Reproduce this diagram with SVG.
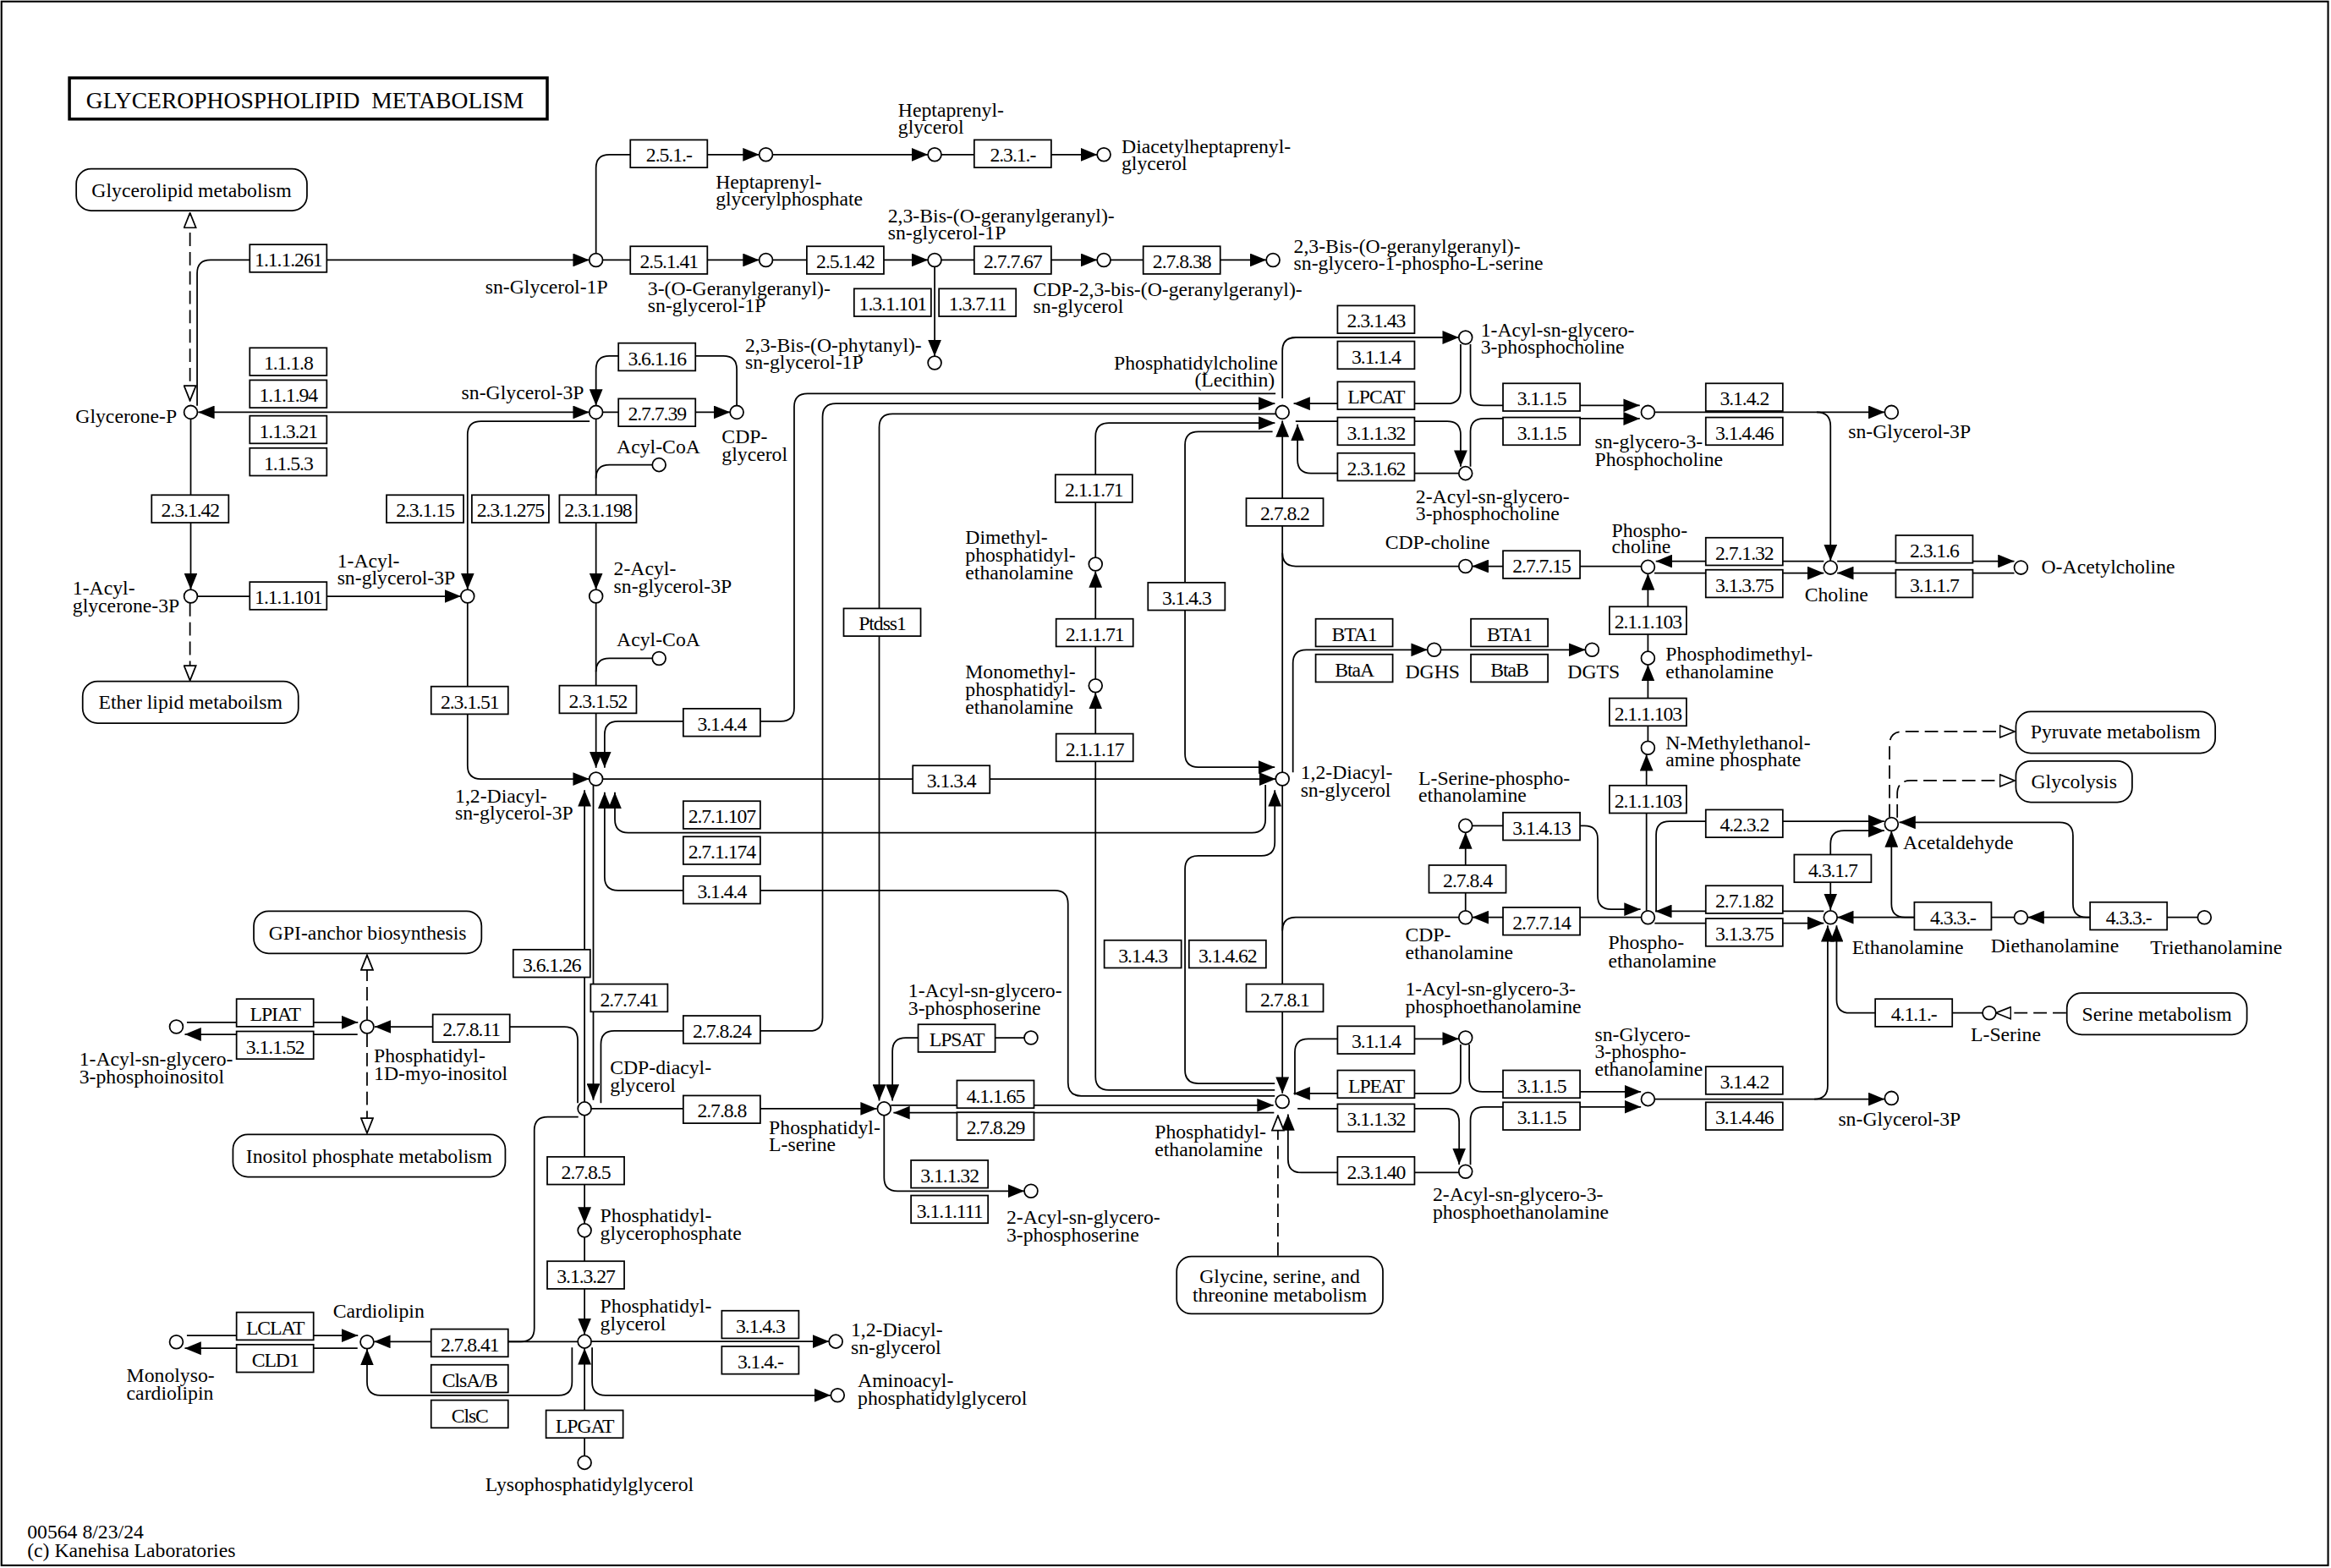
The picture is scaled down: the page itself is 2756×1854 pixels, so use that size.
<svg xmlns="http://www.w3.org/2000/svg" width="2756" height="1854" viewBox="0 0 2756 1854">
<style>
.ln{fill:none;stroke:#000;stroke-width:1}
.d{stroke-dasharray:9 4}
.c circle{fill:#fff;stroke:#000;stroke-width:1}
.e rect{fill:#fff;stroke:#000;stroke-width:1}
.e text{font-family:"Liberation Serif","Times New Roman",serif;font-size:13.5px;letter-spacing:-0.6px;text-anchor:middle}
.t,.c text{font-family:"Liberation Serif","Times New Roman",serif;font-size:13.5px}
.m rect{fill:#fff;stroke:#000;stroke-width:1}
.m text{font-family:"Liberation Serif","Times New Roman",serif;font-size:13.5px;text-anchor:middle}
</style>
<defs>
<marker id="ar" viewBox="0 0 11 9" refX="11" refY="4.5" markerWidth="11" markerHeight="9" markerUnits="userSpaceOnUse" orient="auto-start-reverse"><path d="M0,0L11,4.5L0,9z" fill="#000"/></marker>
<marker id="ah" viewBox="0 0 11 9" refX="10.5" refY="4.5" markerWidth="11" markerHeight="9" markerUnits="userSpaceOnUse" orient="auto-start-reverse"><path d="M0.5,0.5L10.5,4.5L0.5,8.5z" fill="#fff" stroke="#000" stroke-width="1"/></marker>
</defs>
<rect x="0" y="0" width="2756" height="1854" fill="#fff"/>
<g transform="scale(1.7577)">
<rect x="1" y="1" width="1565" height="1052" fill="none" stroke="#000" stroke-width="1.2"/>
<g id="title"><rect x="46.7" y="52.4" width="321.4" height="27.7" fill="#fff" stroke="#000" stroke-width="2"/><text class="t" x="57.9" y="73.1" xml:space="preserve" style="font-size:15.7px;white-space:pre">GLYCEROPHOSPHOLIPID  METABOLISM</text></g>

<g id="connectors">
<path class="ln d" d="M127.8,269.5V143.2" marker-start="url(#ah)" marker-end="url(#ah)"/>
<path class="ln" d="M132.6,273V183.9Q132.6,174.9 141.6,174.9H396.4" marker-end="url(#ar)"/>
<path class="ln" d="M133.3,277.3H396.4" marker-start="url(#ar)" marker-end="url(#ar)"/>
<path class="ln" d="M128.3,281.8V396.6" marker-end="url(#ar)"/>
<path class="ln d" d="M127.8,405.6V457.8" marker-end="url(#ah)"/>
<path class="ln" d="M132.8,401.1H310" marker-end="url(#ar)"/>
<path class="ln" d="M396.6,283.4H323.5Q314.5,283.4 314.5,292.4V396.6" marker-end="url(#ar)"/>
<path class="ln" d="M314.5,405.6V515Q314.5,524 323.5,524H396.4" marker-end="url(#ar)"/>
<path class="ln" d="M400.9,170.4V113Q400.9,104 409.9,104H510.7" marker-end="url(#ar)"/>
<path class="ln" d="M519.7,104H624.2" marker-end="url(#ar)"/>
<path class="ln" d="M633.2,104H738" marker-end="url(#ar)"/>
<path class="ln" d="M405.4,174.9H510.7" marker-end="url(#ar)"/>
<path class="ln" d="M519.7,174.9H624.2" marker-end="url(#ar)"/>
<path class="ln" d="M633.2,174.9H738" marker-end="url(#ar)"/>
<path class="ln" d="M747,174.9H851.8" marker-end="url(#ar)"/>
<path class="ln" d="M628.7,179.4V239.6" marker-end="url(#ar)"/>
<path class="ln" d="M405.4,277.3H491.1" marker-end="url(#ar)"/>
<path class="ln" d="M495.6,272.8V248.5Q495.6,239.5 486.6,239.5H409.9Q400.9,239.5 400.9,248.5V272.8" marker-end="url(#ar)"/>
<path class="ln" d="M400.9,281.8V396.6" marker-end="url(#ar)"/>
<path class="ln" d="M438.8,312.7H409.9Q400.9,312.7 400.9,321.7"/>
<path class="ln" d="M400.9,405.6V516.5" marker-end="url(#ar)"/>
<path class="ln" d="M438.8,442.9H409.9Q400.9,442.9 400.9,451.9"/>
<path class="ln" d="M405.4,524H858.1" marker-end="url(#ar)"/>
<path class="ln" d="M858,264.7H543.2Q534.2,264.7 534.2,273.7V476.2Q534.2,485.2 525.2,485.2H415.7Q406.7,485.2 406.7,494.2V516.5" marker-end="url(#ar)"/>
<path class="ln" d="M404.2,742V702.5Q404.2,693.5 413.2,693.5H544.3Q553.3,693.5 553.3,684.5V280.5Q553.3,271.5 562.3,271.5H857.6" marker-end="url(#ar)"/>
<path class="ln" d="M858,278.4H600.4Q591.4,278.4 591.4,287.4V740.5" marker-end="url(#ar)"/>
<path class="ln" d="M736.9,375V293.6Q736.9,284.6 745.9,284.6H857.6" marker-end="url(#ar)"/>
<path class="ln" d="M736.9,456.8V384.3" marker-end="url(#ar)"/>
<path class="ln" d="M857.5,733.3H745.9Q736.9,733.3 736.9,724.3V466" marker-end="url(#ar)"/>
<path class="ln" d="M856,290.3H806.1Q797.1,290.3 797.1,299.3V507.1Q797.1,516.1 806.1,516.1H857.5" marker-end="url(#ar)"/>
<path class="ln" d="M857.5,728.8H806.1Q797.1,728.8 797.1,719.8V584.7Q797.1,575.7 806.1,575.7H848.5Q857.5,575.7 857.5,566.7V531.5" marker-end="url(#ar)"/>
<path class="ln" d="M851.2,528V551.2Q851.2,560.2 842.2,560.2H422.6Q413.6,560.2 413.6,551.2V533" marker-end="url(#ar)"/>
<path class="ln" d="M857.5,737.2H727.4Q718.4,737.2 718.4,728.2V608Q718.4,599 709.4,599H415.7Q406.7,599 406.7,590V533" marker-end="url(#ar)"/>
<path class="ln" d="M393.2,741.3V531.5" marker-end="url(#ar)"/>
<path class="ln" d="M399.1,528.5V740" marker-end="url(#ar)"/>
<path class="ln" d="M388.6,742V699.7Q388.6,690.7 379.6,690.7H252" marker-end="url(#ar)"/>
<path class="ln" d="M397.7,745.8H589.8" marker-end="url(#ar)"/>
<path class="ln" d="M393.2,750.3V823" marker-end="url(#ar)"/>
<path class="ln" d="M393.2,832.2V897.7" marker-end="url(#ar)"/>
<path class="ln" d="M397.7,902.4H557.6" marker-end="url(#ar)"/>
<path class="ln" d="M398.3,906.5V929.6Q398.3,938.6 407.3,938.6H558.8" marker-end="url(#ar)"/>
<path class="ln" d="M393.2,979.4V907" marker-end="url(#ar)"/>
<path class="ln" d="M389,751.4H368.4Q359.4,751.4 359.4,760.4V893.5Q359.4,902.5 350.4,902.5H341"/>
<path class="ln" d="M388.7,902.5H251.6" marker-end="url(#ar)"/>
<path class="ln" d="M384.8,906.5V929.6Q384.8,938.6 375.8,938.6H255.9Q246.9,938.6 246.9,929.6V907.5" marker-end="url(#ar)"/>
<path class="ln" d="M125.7,898.4H240.8" marker-end="url(#ar)"/>
<path class="ln" d="M240.5,907H124.3" marker-end="url(#ar)"/>
<path class="ln" d="M125.7,687.7H240.8" marker-end="url(#ar)"/>
<path class="ln" d="M240.5,695.8H124.3" marker-end="url(#ar)"/>
<path class="ln d" d="M246.9,686V642.5" marker-end="url(#ah)"/>
<path class="ln d" d="M246.9,695.3V762.2" marker-end="url(#ah)"/>
<path class="ln" d="M689,698.1H609.3Q600.3,698.1 600.3,707.1V740.5" marker-end="url(#ar)"/>
<path class="ln" d="M594.7,750.3V792.2Q594.7,801.2 603.7,801.2H689" marker-end="url(#ar)"/>
<path class="ln" d="M599.2,743.5H856.6" marker-end="url(#ar)"/>
<path class="ln" d="M857,748.5H601" marker-end="url(#ar)"/>
<path class="ln" d="M862.6,528.5V735.5" marker-end="url(#ar)"/>
<path class="ln" d="M981.3,617.1H871.6Q862.6,617.1 862.6,626.1"/>
<path class="ln" d="M862.6,519.5V283" marker-end="url(#ar)"/>
<path class="ln" d="M981.3,380.9H871.6Q862.6,380.9 862.6,371.9"/>
<path class="ln" d="M869.7,519.5V446.1Q869.7,437.1 878.7,437.1H960.2" marker-end="url(#ar)"/>
<path class="ln" d="M969.2,437.1H1066.4" marker-end="url(#ar)"/>
<path class="ln" d="M862.6,268V236Q862.6,227 871.6,227H981.3" marker-end="url(#ar)"/>
<path class="ln" d="M982.5,231.5V262.5Q982.5,271.5 973.5,271.5H870.2" marker-end="url(#ar)"/>
<path class="ln" d="M871.5,283.4H973.5Q982.5,283.4 982.5,292.4V313.9" marker-end="url(#ar)"/>
<path class="ln" d="M981.3,318.4H881.8Q872.8,318.4 872.8,309.4V285.5" marker-end="url(#ar)"/>
<path class="ln" d="M989.1,231.5V263.7Q989.1,272.7 998.1,272.7H1103" marker-end="url(#ar)"/>
<path class="ln" d="M989.1,313.9V290.6Q989.1,281.6 998.1,281.6H1103" marker-end="url(#ar)"/>
<path class="ln" d="M1113,277.3H1267.8" marker-end="url(#ar)"/>
<path class="ln" d="M1222,277.3Q1231.3,277.3 1231.3,286.6V377.3" marker-end="url(#ar)"/>
<path class="ln" d="M1104,380.9H990.3" marker-end="url(#ar)"/>
<path class="ln" d="M1226.8,377.5H1113.8" marker-end="url(#ar)"/>
<path class="ln" d="M1112.8,385.5H1226.8" marker-end="url(#ar)"/>
<path class="ln" d="M1235.8,377.5H1354.9" marker-end="url(#ar)"/>
<path class="ln" d="M1354.9,385.5H1235.8" marker-end="url(#ar)"/>
<path class="ln" d="M1108.5,438.2V385.9" marker-end="url(#ar)"/>
<path class="ln" d="M1108.5,498.6V447.2" marker-end="url(#ar)"/>
<path class="ln" d="M1107.5,612.6V507.6" marker-end="url(#ar)"/>
<path class="ln" d="M1114,613.5V561.5Q1114,552.5 1123,552.5H1267.5" marker-end="url(#ar)"/>
<path class="ln" d="M990.3,555.5H1065.7Q1074.7,555.5 1074.7,564.5V602.7Q1074.7,611.7 1083.7,611.7H1103.5" marker-end="url(#ar)"/>
<path class="ln" d="M985.8,612.6V560" marker-end="url(#ar)"/>
<path class="ln" d="M1104,617.1H990.3" marker-end="url(#ar)"/>
<path class="ln" d="M1226.8,613H1113.5" marker-end="url(#ar)"/>
<path class="ln" d="M1113,621H1226.8" marker-end="url(#ar)"/>
<path class="ln" d="M1354.9,617.1H1235.8" marker-end="url(#ar)"/>
<path class="ln" d="M1287.4,617.1H1281.3Q1272.3,617.1 1272.3,608.1V558.9" marker-end="url(#ar)"/>
<path class="ln" d="M1478.3,617.1H1364" marker-end="url(#ar)"/>
<path class="ln" d="M1405.6,617.1H1403.4Q1394.4,617.1 1394.4,608.1V562.2Q1394.4,553.2 1385.4,553.2H1277.5" marker-end="url(#ar)"/>
<path class="ln" d="M1231.3,612.1V567.8Q1231.3,558.8 1240.3,558.8H1267.5" marker-start="url(#ar)" marker-end="url(#ar)"/>
<path class="ln" d="M1333.6,681.4H1244.4Q1235.4,681.4 1235.4,672.4V622.5" marker-end="url(#ar)"/>
<path class="ln" d="M1220.4,739.4Q1229.4,739.4 1229.4,730.4V622.5" marker-end="url(#ar)"/>
<path class="ln" d="M1113,739.4H1267.8" marker-end="url(#ar)"/>
<path class="ln d" d="M1389.8,681.4H1342.6" marker-end="url(#ah)"/>
<path class="ln d" d="M1271,549.9V501.1Q1271,492.1 1280,492.1H1355.2" marker-end="url(#ah)"/>
<path class="ln d" d="M1276.2,550V534.1Q1276.2,525.1 1285.2,525.1H1355.2" marker-end="url(#ah)"/>
<path class="ln" d="M871,736.5V707.8Q871,698.8 880,698.8H981.3" marker-end="url(#ar)"/>
<path class="ln" d="M982.5,702.6V726.6Q982.5,735.6 973.5,735.6H870.2" marker-end="url(#ar)"/>
<path class="ln" d="M872.8,745.8H972.5Q981.5,745.8 981.5,754.8V783.4" marker-end="url(#ar)"/>
<path class="ln" d="M981.3,788.8H875.4Q866.4,788.8 866.4,779.8V749.5" marker-end="url(#ar)"/>
<path class="ln" d="M988.3,702.6V725.4Q988.3,734.4 997.3,734.4H1103.8" marker-end="url(#ar)"/>
<path class="ln" d="M989.1,783.6V753.6Q989.1,744.6 998.1,744.6H1103.8" marker-end="url(#ar)"/>
<path class="ln d" d="M859.6,844.7V750.5" marker-end="url(#ah)"/>
</g>

<g id="maps" class="m">
<g id="m-glycerolipid"><rect x="51.3" y="113.6" width="155.2" height="28.1" rx="10"/><text x="128.9" y="132.6">Glycerolipid metabolism</text></g>
<g id="m-ether"><rect x="55.6" y="458.3" width="145.1" height="28.2" rx="10"/><text x="128.1" y="477">Ether lipid metaboilsm</text></g>
<g id="m-gpi"><rect x="170.7" y="612.9" width="153.2" height="28.5" rx="10"/><text x="247.3" y="632">GPI-anchor biosynthesis</text></g>
<g id="m-inositol"><rect x="156.7" y="763.2" width="183.2" height="28.5" rx="10"/><text x="248.3" y="782.4">Inositol phosphate metabolism</text></g>
<g id="m-glycine"><rect x="791.5" y="845.2" width="138.7" height="38.6" rx="10"/><text x="860.8" y="862.8"><tspan x="860.8" y="862.8">Glycine, serine, and</tspan><tspan x="860.8" y="875.3">threonine metabolism</tspan></text></g>
<g id="m-pyruvate"><rect x="1356" y="478.7" width="134.1" height="28" rx="10"/><text x="1423" y="496.8">Pyruvate metabolism</text></g>
<g id="m-glycolysis"><rect x="1356" y="511.9" width="78.2" height="27.8" rx="10"/><text x="1395.1" y="530.5">Glycolysis</text></g>
<g id="m-serine"><rect x="1390.3" y="668" width="121.1" height="28" rx="10"/><text x="1450.8" y="686.5">Serine metabolism</text></g>
</g>

<g id="enzymes" class="e">
<g id="e1"><rect x="168" y="164.5" width="51.8" height="18.6"/><text x="193.9" y="179.3">1.1.1.261</text></g>
<g id="e2"><rect x="168" y="234" width="51.8" height="18.6"/><text x="193.9" y="248.8">1.1.1.8</text></g>
<g id="e3"><rect x="168" y="255.7" width="51.8" height="18.6"/><text x="193.9" y="270.5">1.1.1.94</text></g>
<g id="e4"><rect x="168" y="279.7" width="51.8" height="18.6"/><text x="193.9" y="294.5">1.1.3.21</text></g>
<g id="e5"><rect x="168" y="301.4" width="51.8" height="18.6"/><text x="193.9" y="316.2">1.1.5.3</text></g>
<g id="e6"><rect x="102" y="333" width="51.8" height="18.6"/><text x="127.9" y="347.8">2.3.1.42</text></g>
<g id="e7"><rect x="260" y="333" width="51.8" height="18.6"/><text x="285.9" y="347.8">2.3.1.15</text></g>
<g id="e8"><rect x="317.4" y="333" width="51.8" height="18.6"/><text x="343.3" y="347.8">2.3.1.275</text></g>
<g id="e9"><rect x="376.3" y="333" width="51.8" height="18.6"/><text x="402.2" y="347.8">2.3.1.198</text></g>
<g id="e10"><rect x="168" y="391.5" width="51.8" height="18.6"/><text x="193.9" y="406.3">1.1.1.101</text></g>
<g id="e11"><rect x="290" y="461.8" width="51.8" height="18.6"/><text x="315.9" y="476.6">2.3.1.51</text></g>
<g id="e12"><rect x="376.3" y="461.2" width="51.8" height="18.6"/><text x="402.2" y="476">2.3.1.52</text></g>
<g id="e13"><rect x="424" y="94.1" width="51.8" height="18.6"/><text x="449.9" y="108.9">2.5.1.-</text></g>
<g id="e14"><rect x="655.3" y="94.1" width="51.8" height="18.6"/><text x="681.2" y="108.9">2.3.1.-</text></g>
<g id="e15"><rect x="424" y="165.7" width="51.8" height="18.6"/><text x="449.9" y="180.5">2.5.1.41</text></g>
<g id="e16"><rect x="542.7" y="165.7" width="51.8" height="18.6"/><text x="568.6" y="180.5">2.5.1.42</text></g>
<g id="e17"><rect x="655.3" y="165.7" width="51.8" height="18.6"/><text x="681.2" y="180.5">2.7.7.67</text></g>
<g id="e18"><rect x="769" y="165.7" width="51.8" height="18.6"/><text x="794.9" y="180.5">2.7.8.38</text></g>
<g id="e19"><rect x="574.5" y="194.2" width="51.8" height="18.6"/><text x="600.4" y="209">1.3.1.101</text></g>
<g id="e20"><rect x="631.6" y="194.2" width="51.8" height="18.6"/><text x="657.5" y="209">1.3.7.11</text></g>
<g id="e21"><rect x="416" y="230.8" width="51.8" height="18.6"/><text x="441.9" y="245.6">3.6.1.16</text></g>
<g id="e22"><rect x="416" y="268.2" width="51.8" height="18.6"/><text x="441.9" y="283">2.7.7.39</text></g>
<g id="e23"><rect x="709.9" y="319.3" width="51.8" height="18.6"/><text x="735.8" y="334.1">2.1.1.71</text></g>
<g id="e24"><rect x="710.4" y="416.3" width="51.8" height="18.6"/><text x="736.3" y="431.1">2.1.1.71</text></g>
<g id="e25"><rect x="710.4" y="493.6" width="51.8" height="18.6"/><text x="736.3" y="508.4">2.1.1.17</text></g>
<g id="e26"><rect x="567.5" y="409.3" width="51.8" height="18.6"/><text x="593.4" y="424.1">Ptdss1</text></g>
<g id="e27"><rect x="459.6" y="476.7" width="51.8" height="18.6"/><text x="485.5" y="491.5">3.1.4.4</text></g>
<g id="e28"><rect x="614" y="515" width="51.8" height="18.6"/><text x="639.9" y="529.8">3.1.3.4</text></g>
<g id="e29"><rect x="459.6" y="538.9" width="51.8" height="18.6"/><text x="485.5" y="553.7">2.7.1.107</text></g>
<g id="e30"><rect x="459.6" y="562.8" width="51.8" height="18.6"/><text x="485.5" y="577.6">2.7.1.174</text></g>
<g id="e31"><rect x="459.6" y="589.3" width="51.8" height="18.6"/><text x="485.5" y="604.1">3.1.4.4</text></g>
<g id="e32"><rect x="772.2" y="391.9" width="51.8" height="18.6"/><text x="798.1" y="406.7">3.1.4.3</text></g>
<g id="e33"><rect x="742.8" y="632.5" width="51.8" height="18.6"/><text x="768.7" y="647.3">3.1.4.3</text></g>
<g id="e34"><rect x="799.8" y="632.5" width="51.8" height="18.6"/><text x="825.7" y="647.3">3.1.4.62</text></g>
<g id="e35"><rect x="345.2" y="638.8" width="51.8" height="18.6"/><text x="371.1" y="653.6">3.6.1.26</text></g>
<g id="e36"><rect x="397.3" y="662" width="51.8" height="18.6"/><text x="423.2" y="676.8">2.7.7.41</text></g>
<g id="e37"><rect x="459.6" y="683.3" width="51.8" height="18.6"/><text x="485.5" y="698.1">2.7.8.24</text></g>
<g id="e38"><rect x="617.6" y="689.1" width="51.8" height="18.6"/><text x="643.5" y="703.9">LPSAT</text></g>
<g id="e39"><rect x="899.7" y="205.6" width="51.8" height="18.6"/><text x="925.6" y="220.4">2.3.1.43</text></g>
<g id="e40"><rect x="899.7" y="229.6" width="51.8" height="18.6"/><text x="925.6" y="244.4">3.1.1.4</text></g>
<g id="e41"><rect x="899.7" y="256.8" width="51.8" height="18.6"/><text x="925.6" y="271.6">LPCAT</text></g>
<g id="e42"><rect x="899.7" y="280.8" width="51.8" height="18.6"/><text x="925.6" y="295.6">3.1.1.32</text></g>
<g id="e43"><rect x="899.7" y="304.8" width="51.8" height="18.6"/><text x="925.6" y="319.6">2.3.1.62</text></g>
<g id="e44"><rect x="1011" y="257.9" width="51.8" height="18.6"/><text x="1036.9" y="272.7">3.1.1.5</text></g>
<g id="e45"><rect x="1011" y="280.8" width="51.8" height="18.6"/><text x="1036.9" y="295.6">3.1.1.5</text></g>
<g id="e46"><rect x="1147.4" y="257.9" width="51.8" height="18.6"/><text x="1173.3" y="272.7">3.1.4.2</text></g>
<g id="e47"><rect x="1147.4" y="280.8" width="51.8" height="18.6"/><text x="1173.3" y="295.6">3.1.4.46</text></g>
<g id="e48"><rect x="838.3" y="335.2" width="51.8" height="18.6"/><text x="864.2" y="350">2.7.8.2</text></g>
<g id="e49"><rect x="1011" y="370.5" width="51.8" height="18.6"/><text x="1036.9" y="385.3">2.7.7.15</text></g>
<g id="e50"><rect x="885" y="416.3" width="51.8" height="18.6"/><text x="910.9" y="431.1">BTA1</text></g>
<g id="e51"><rect x="885" y="440.2" width="51.8" height="18.6"/><text x="910.9" y="455">BtaA</text></g>
<g id="e52"><rect x="989.4" y="416.3" width="51.8" height="18.6"/><text x="1015.3" y="431.1">BTA1</text></g>
<g id="e53"><rect x="989.4" y="440.2" width="51.8" height="18.6"/><text x="1015.3" y="455">BtaB</text></g>
<g id="e54"><rect x="1082.6" y="408.1" width="51.8" height="18.6"/><text x="1108.5" y="422.9">2.1.1.103</text></g>
<g id="e55"><rect x="1082.6" y="469.7" width="51.8" height="18.6"/><text x="1108.5" y="484.5">2.1.1.103</text></g>
<g id="e56"><rect x="1082.6" y="528.4" width="51.8" height="18.6"/><text x="1108.5" y="543.2">2.1.1.103</text></g>
<g id="e57"><rect x="1011" y="546.6" width="51.8" height="18.6"/><text x="1036.9" y="561.4">3.1.4.13</text></g>
<g id="e58"><rect x="961.2" y="582" width="51.8" height="18.6"/><text x="987.1" y="596.8">2.7.8.4</text></g>
<g id="e59"><rect x="1011" y="610.4" width="51.8" height="18.6"/><text x="1036.9" y="625.2">2.7.7.14</text></g>
<g id="e60"><rect x="838.3" y="662" width="51.8" height="18.6"/><text x="864.2" y="676.8">2.7.8.1</text></g>
<g id="e61"><rect x="899.7" y="690.3" width="51.8" height="18.6"/><text x="925.6" y="705.1">3.1.1.4</text></g>
<g id="e62"><rect x="899.7" y="720" width="51.8" height="18.6"/><text x="925.6" y="734.8">LPEAT</text></g>
<g id="e63"><rect x="899.7" y="742.7" width="51.8" height="18.6"/><text x="925.6" y="757.5">3.1.1.32</text></g>
<g id="e64"><rect x="899.7" y="778.2" width="51.8" height="18.6"/><text x="925.6" y="793">2.3.1.40</text></g>
<g id="e65"><rect x="1011" y="720" width="51.8" height="18.6"/><text x="1036.9" y="734.8">3.1.1.5</text></g>
<g id="e66"><rect x="1011" y="741.5" width="51.8" height="18.6"/><text x="1036.9" y="756.3">3.1.1.5</text></g>
<g id="e67"><rect x="1147.4" y="717.5" width="51.8" height="18.6"/><text x="1173.3" y="732.3">3.1.4.2</text></g>
<g id="e68"><rect x="1147.4" y="741.5" width="51.8" height="18.6"/><text x="1173.3" y="756.3">3.1.4.46</text></g>
<g id="e69"><rect x="1147.4" y="361.7" width="51.8" height="18.6"/><text x="1173.3" y="376.5">2.7.1.32</text></g>
<g id="e70"><rect x="1147.4" y="383.3" width="51.8" height="18.6"/><text x="1173.3" y="398.1">3.1.3.75</text></g>
<g id="e71"><rect x="1275.2" y="360.1" width="51.8" height="18.6"/><text x="1301.1" y="374.9">2.3.1.6</text></g>
<g id="e72"><rect x="1275.2" y="383.3" width="51.8" height="18.6"/><text x="1301.1" y="398.1">3.1.1.7</text></g>
<g id="e73"><rect x="1147.4" y="544.7" width="51.8" height="18.6"/><text x="1173.3" y="559.5">4.2.3.2</text></g>
<g id="e74"><rect x="1206.9" y="574.9" width="51.8" height="18.6"/><text x="1232.8" y="589.7">4.3.1.7</text></g>
<g id="e75"><rect x="1147.4" y="595.8" width="51.8" height="18.6"/><text x="1173.3" y="610.6">2.7.1.82</text></g>
<g id="e76"><rect x="1147.4" y="617.9" width="51.8" height="18.6"/><text x="1173.3" y="632.7">3.1.3.75</text></g>
<g id="e77"><rect x="1287.7" y="606.9" width="51.8" height="18.6"/><text x="1313.6" y="621.7">4.3.3.-</text></g>
<g id="e78"><rect x="1405.9" y="606.9" width="51.8" height="18.6"/><text x="1431.8" y="621.7">4.3.3.-</text></g>
<g id="e79"><rect x="1261.4" y="672" width="51.8" height="18.6"/><text x="1287.3" y="686.8">4.1.1.-</text></g>
<g id="e80"><rect x="159.1" y="672" width="51.8" height="18.6"/><text x="185" y="686.8">LPIAT</text></g>
<g id="e81"><rect x="159.1" y="693.8" width="51.8" height="18.6"/><text x="185" y="708.6">3.1.1.52</text></g>
<g id="e82"><rect x="291.1" y="682.4" width="51.8" height="18.6"/><text x="317" y="697.2">2.7.8.11</text></g>
<g id="e83"><rect x="459.6" y="737" width="51.8" height="18.6"/><text x="485.5" y="751.8">2.7.8.8</text></g>
<g id="e84"><rect x="643.7" y="726.8" width="51.8" height="18.6"/><text x="669.6" y="741.6">4.1.1.65</text></g>
<g id="e85"><rect x="643.7" y="748.3" width="51.8" height="18.6"/><text x="669.6" y="763.1">2.7.8.29</text></g>
<g id="e86"><rect x="612.8" y="780.5" width="51.8" height="18.6"/><text x="638.7" y="795.3">3.1.1.32</text></g>
<g id="e87"><rect x="612.8" y="804.2" width="51.8" height="18.6"/><text x="638.7" y="819">3.1.1.111</text></g>
<g id="e88"><rect x="368.1" y="778.2" width="51.8" height="18.6"/><text x="394" y="793">2.7.8.5</text></g>
<g id="e89"><rect x="368.1" y="848.4" width="51.8" height="18.6"/><text x="394" y="863.2">3.1.3.27</text></g>
<g id="e90"><rect x="485.5" y="881.7" width="51.8" height="18.6"/><text x="511.4" y="896.5">3.1.4.3</text></g>
<g id="e91"><rect x="485.5" y="905.7" width="51.8" height="18.6"/><text x="511.4" y="920.5">3.1.4.-</text></g>
<g id="e92"><rect x="159.1" y="882.8" width="51.8" height="18.6"/><text x="185" y="897.6">LCLAT</text></g>
<g id="e93"><rect x="159.1" y="904.5" width="51.8" height="18.6"/><text x="185" y="919.3">CLD1</text></g>
<g id="e94"><rect x="290" y="894.1" width="51.8" height="18.6"/><text x="315.9" y="908.9">2.7.8.41</text></g>
<g id="e95"><rect x="290" y="918.1" width="51.8" height="18.6"/><text x="315.9" y="932.9">ClsA/B</text></g>
<g id="e96"><rect x="290" y="941.9" width="51.8" height="18.6"/><text x="315.9" y="956.7">ClsC</text></g>
<g id="e97"><rect x="367.3" y="948.7" width="51.8" height="18.6"/><text x="393.2" y="963.5">LPGAT</text></g>
</g>

<g id="compounds" class="c">
<g id="c-glycerone-p"><circle cx="128.3" cy="277.3" r="4.5"/><text x="50.8" y="284.3">Glycerone-P</text></g>
<g id="c-sn-glycerol-1p"><circle cx="400.9" cy="174.9" r="4.5"/><text x="326.4" y="197.7">sn-Glycerol-1P</text></g>
<g id="c-hgp"><circle cx="515.2" cy="104" r="4.5"/><text x="481.4" y="126.9"><tspan x="481.4" y="126.9">Heptaprenyl-</tspan><tspan x="481.4" y="138.3">glycerylphosphate</tspan></text></g>
<g id="c-hg"><circle cx="628.7" cy="104" r="4.5"/><text x="604.1" y="78.5"><tspan x="604.1" y="78.5">Heptaprenyl-</tspan><tspan x="604.1" y="90">glycerol</tspan></text></g>
<g id="c-dahg"><circle cx="742.5" cy="104" r="4.5"/><text x="754.4" y="102.9"><tspan x="754.4" y="102.9">Diacetylheptaprenyl-</tspan><tspan x="754.4" y="114.3">glycerol</tspan></text></g>
<g id="c-oggg1p"><circle cx="515.2" cy="174.9" r="4.5"/><text x="435.7" y="198.4"><tspan x="435.7" y="198.4">3-(O-Geranylgeranyl)-</tspan><tspan x="435.7" y="209.8">sn-glycerol-1P</tspan></text></g>
<g id="c-bisgg"><circle cx="628.7" cy="174.9" r="4.5"/><text x="597.2" y="149.7"><tspan x="597.2" y="149.7">2,3-Bis-(O-geranylgeranyl)-</tspan><tspan x="597.2" y="161.1">sn-glycerol-1P</tspan></text></g>
<g id="c-cdpbisgg"><circle cx="742.5" cy="174.9" r="4.5"/><text x="695" y="198.9"><tspan x="695" y="198.9">CDP-2,3-bis-(O-geranylgeranyl)-</tspan><tspan x="695" y="210.3">sn-glycerol</tspan></text></g>
<g id="c-bisggser"><circle cx="856.3" cy="174.9" r="4.5"/><text x="870.2" y="170.3"><tspan x="870.2" y="170.3">2,3-Bis-(O-geranylgeranyl)-</tspan><tspan x="870.2" y="181.7">sn-glycero-1-phospho-L-serine</tspan></text></g>
<g id="c-bisphy"><circle cx="628.7" cy="244.1" r="4.5"/><text x="501.2" y="236.6"><tspan x="501.2" y="236.6">2,3-Bis-(O-phytanyl)-</tspan><tspan x="501.2" y="248">sn-glycerol-1P</tspan></text></g>
<g id="c-g3p-left"><circle cx="400.9" cy="277.3" r="4.5"/><text x="310.4" y="268.6">sn-Glycerol-3P</text></g>
<g id="c-cdp-glycerol"><circle cx="495.6" cy="277.3" r="4.5"/><text x="485.5" y="298.3"><tspan x="485.5" y="298.3">CDP-</tspan><tspan x="485.5" y="310">glycerol</tspan></text></g>
<g id="c-acylcoa1"><circle cx="443.3" cy="312.7" r="4.5"/><text x="414.8" y="305.1">Acyl-CoA</text></g>
<g id="c-acylglycerone"><circle cx="128.3" cy="401.1" r="4.5"/><text x="48.8" y="400"><tspan x="48.8" y="400">1-Acyl-</tspan><tspan x="48.8" y="411.8">glycerone-3P</tspan></text></g>
<g id="c-1-lpa"><circle cx="314.5" cy="401.1" r="4.5"/><text x="226.8" y="381.8"><tspan x="226.8" y="381.8">1-Acyl-</tspan><tspan x="226.8" y="393.4">sn-glycerol-3P</tspan></text></g>
<g id="c-2-lpa"><circle cx="400.9" cy="401.1" r="4.5"/><text x="412.8" y="387"><tspan x="412.8" y="387">2-Acyl-</tspan><tspan x="412.8" y="398.8">sn-glycerol-3P</tspan></text></g>
<g id="c-acylcoa2"><circle cx="443.3" cy="442.9" r="4.5"/><text x="414.8" y="434.8">Acyl-CoA</text></g>
<g id="c-pa"><circle cx="400.9" cy="524" r="4.5"/><text x="306.1" y="539.8"><tspan x="306.1" y="539.8">1,2-Diacyl-</tspan><tspan x="306.1" y="551.4">sn-glycerol-3P</tspan></text></g>
<g id="c-pc"><circle cx="862.6" cy="277.3" r="4.5"/><text x="859.5" y="248.5" text-anchor="end"><tspan x="859.5" y="248.5">Phosphatidylcholine</tspan><tspan x="857.5" y="260">(Lecithin)</tspan></text></g>
<g id="c-1-lpc"><circle cx="985.8" cy="227" r="4.5"/><text x="996" y="226.3"><tspan x="996" y="226.3">1-Acyl-sn-glycero-</tspan><tspan x="996" y="237.9">3-phosphocholine</tspan></text></g>
<g id="c-2-lpc"><circle cx="985.8" cy="318.4" r="4.5"/><text x="952.3" y="338.3"><tspan x="952.3" y="338.3">2-Acyl-sn-glycero-</tspan><tspan x="952.3" y="349.7">3-phosphocholine</tspan></text></g>
<g id="c-gpc"><circle cx="1108.5" cy="277.3" r="4.5"/><text x="1072.7" y="301.7"><tspan x="1072.7" y="301.7">sn-glycero-3-</tspan><tspan x="1072.7" y="313.3">Phosphocholine</tspan></text></g>
<g id="c-g3p-top"><circle cx="1272.3" cy="277.3" r="4.5"/><text x="1243.2" y="294.9">sn-Glycerol-3P</text></g>
<g id="c-phosphocholine"><circle cx="1108.5" cy="381.4" r="4.5"/><text x="1084.1" y="361"><tspan x="1084.1" y="361">Phospho-</tspan><tspan x="1084.1" y="372.3">choline</tspan></text></g>
<g id="c-cdp-choline"><circle cx="985.8" cy="380.9" r="4.5"/><text x="931.7" y="369.1">CDP-choline</text></g>
<g id="c-choline"><circle cx="1231.3" cy="381.8" r="4.5"/><text x="1213.9" y="404.6">Choline</text></g>
<g id="c-acetylcholine"><circle cx="1359.4" cy="381.8" r="4.5"/><text x="1373.1" y="386">O-Acetylcholine</text></g>
<g id="c-pdme"><circle cx="1108.5" cy="442.7" r="4.5"/><text x="1120.4" y="444.5"><tspan x="1120.4" y="444.5">Phosphodimethyl-</tspan><tspan x="1120.4" y="456.1">ethanolamine</tspan></text></g>
<g id="c-pme"><circle cx="1108.5" cy="503.1" r="4.5"/><text x="1120.4" y="503.8"><tspan x="1120.4" y="503.8">N-Methylethanol-</tspan><tspan x="1120.4" y="515.4">amine phosphate</tspan></text></g>
<g id="c-dghs"><circle cx="964.7" cy="437.1" r="4.5"/><text x="945.2" y="456.2">DGHS</text></g>
<g id="c-dgts"><circle cx="1070.9" cy="437.1" r="4.5"/><text x="1054.4" y="456.2">DGTS</text></g>
<g id="c-dag"><circle cx="862.6" cy="524" r="4.5"/><text x="874.8" y="524"><tspan x="874.8" y="524">1,2-Diacyl-</tspan><tspan x="874.8" y="536.1">sn-glycerol</tspan></text></g>
<g id="c-serpe"><circle cx="985.8" cy="555.5" r="4.5"/><text x="954.1" y="527.7"><tspan x="954.1" y="527.7">L-Serine-phospho-</tspan><tspan x="954.1" y="539.5">ethanolamine</tspan></text></g>
<g id="c-cdp-etn"><circle cx="985.8" cy="617.1" r="4.5"/><text x="945.2" y="633.1"><tspan x="945.2" y="633.1">CDP-</tspan><tspan x="945.2" y="645.2">ethanolamine</tspan></text></g>
<g id="c-petn"><circle cx="1108.5" cy="617.1" r="4.5"/><text x="1081.8" y="638.5"><tspan x="1081.8" y="638.5">Phospho-</tspan><tspan x="1081.8" y="650.6">ethanolamine</tspan></text></g>
<g id="c-acetaldehyde"><circle cx="1272.3" cy="554.4" r="4.5"/><text x="1280.1" y="571.1">Acetaldehyde</text></g>
<g id="c-ethanolamine"><circle cx="1231.3" cy="617.1" r="4.5"/><text x="1245.8" y="641.9">Ethanolamine</text></g>
<g id="c-diethanolamine"><circle cx="1359.4" cy="617.1" r="4.5"/><text x="1339.1" y="640.8">Diethanolamine</text></g>
<g id="c-triethanolamine"><circle cx="1482.8" cy="617.1" r="4.5"/><text x="1446.4" y="641.9">Triethanolamine</text></g>
<g id="c-l-serine"><circle cx="1338.1" cy="681.4" r="4.5"/><text x="1325.6" y="700.5">L-Serine</text></g>
<g id="c-dmpe"><circle cx="736.9" cy="379.5" r="4.5"/><text x="649.3" y="365.6"><tspan x="649.3" y="365.6">Dimethyl-</tspan><tspan x="649.3" y="377.7">phosphatidyl-</tspan><tspan x="649.3" y="389.5">ethanolamine</tspan></text></g>
<g id="c-mmpe"><circle cx="736.9" cy="461.3" r="4.5"/><text x="649.3" y="456.2"><tspan x="649.3" y="456.2">Monomethyl-</tspan><tspan x="649.3" y="468.2">phosphatidyl-</tspan><tspan x="649.3" y="480.2">ethanolamine</tspan></text></g>
<g id="c-1-lps"><circle cx="693.5" cy="698.1" r="4.5"/><text x="610.9" y="671"><tspan x="610.9" y="671">1-Acyl-sn-glycero-</tspan><tspan x="610.9" y="682.6">3-phosphoserine</tspan></text></g>
<g id="c-ps"><circle cx="594.7" cy="745.8" r="4.5"/><text x="517.2" y="763.2"><tspan x="517.2" y="763.2">Phosphatidyl-</tspan><tspan x="517.2" y="774.5">L-serine</tspan></text></g>
<g id="c-2-lps"><circle cx="693.5" cy="801.2" r="4.5"/><text x="677" y="823.2"><tspan x="677" y="823.2">2-Acyl-sn-glycero-</tspan><tspan x="677" y="835">3-phosphoserine</tspan></text></g>
<g id="c-cdp-dag"><circle cx="393.2" cy="745.8" r="4.5"/><text x="410.3" y="722.4"><tspan x="410.3" y="722.4">CDP-diacyl-</tspan><tspan x="410.3" y="734.5">glycerol</tspan></text></g>
<g id="c-pgp"><circle cx="393.2" cy="827.7" r="4.5"/><text x="403.7" y="822.1"><tspan x="403.7" y="822.1">Phosphatidyl-</tspan><tspan x="403.7" y="834">glycerophosphate</tspan></text></g>
<g id="c-pg"><circle cx="393.2" cy="902.4" r="4.5"/><text x="403.7" y="883.2"><tspan x="403.7" y="883.2">Phosphatidyl-</tspan><tspan x="403.7" y="895">glycerol</tspan></text></g>
<g id="c-dag2"><circle cx="562.2" cy="902.4" r="4.5"/><text x="572.3" y="899"><tspan x="572.3" y="899">1,2-Diacyl-</tspan><tspan x="572.3" y="910.8">sn-glycerol</tspan></text></g>
<g id="c-aapg"><circle cx="563.4" cy="938.6" r="4.5"/><text x="576.9" y="933"><tspan x="576.9" y="933">Aminoacyl-</tspan><tspan x="576.9" y="945">phosphatidylglycerol</tspan></text></g>
<g id="c-lpg"><circle cx="393.2" cy="983.9" r="4.5"/><text x="326.4" y="1003">Lysophosphatidylglycerol</text></g>
<g id="c-cardiolipin"><circle cx="246.9" cy="902.7" r="4.5"/><text x="224" y="886.6">Cardiolipin</text></g>
<g id="c-mlcl"><circle cx="118.6" cy="902.7" r="4.5"/><text x="85.1" y="929.6"><tspan x="85.1" y="929.6">Monolyso-</tspan><tspan x="85.1" y="941.4">cardiolipin</tspan></text></g>
<g id="c-pi"><circle cx="246.9" cy="690.7" r="4.5"/><text x="251.5" y="714.5"><tspan x="251.5" y="714.5">Phosphatidyl-</tspan><tspan x="251.5" y="726.6">1D-myo-inositol</tspan></text></g>
<g id="c-lpi"><circle cx="118.6" cy="690.7" r="4.5"/><text x="53.3" y="716.8"><tspan x="53.3" y="716.8">1-Acyl-sn-glycero-</tspan><tspan x="53.3" y="728.8">3-phosphoinositol</tspan></text></g>
<g id="c-pe"><circle cx="862.6" cy="741" r="4.5"/><text x="776.7" y="765.5"><tspan x="776.7" y="765.5">Phosphatidyl-</tspan><tspan x="776.7" y="777.6">ethanolamine</tspan></text></g>
<g id="c-1-lpe"><circle cx="985.8" cy="698.1" r="4.5"/><text x="945.2" y="669.8"><tspan x="945.2" y="669.8">1-Acyl-sn-glycero-3-</tspan><tspan x="945.2" y="681.4">phosphoethanolamine</tspan></text></g>
<g id="c-2-lpe"><circle cx="985.8" cy="788.1" r="4.5"/><text x="963.7" y="808"><tspan x="963.7" y="808">2-Acyl-sn-glycero-3-</tspan><tspan x="963.7" y="819.8">phosphoethanolamine</tspan></text></g>
<g id="c-gpe"><circle cx="1108.5" cy="739.4" r="4.5"/><text x="1072.7" y="700.5"><tspan x="1072.7" y="700.5">sn-Glycero-</tspan><tspan x="1072.7" y="712">3-phospho-</tspan><tspan x="1072.7" y="723.5">ethanolamine</tspan></text></g>
<g id="c-g3p-bottom"><circle cx="1272.3" cy="738.7" r="4.5"/><text x="1236.5" y="757.5">sn-Glycerol-3P</text></g>
</g>

<g id="footer"><text class="t" x="18.3" y="1034.9"><tspan x="18.3" y="1034.9">00564 8/23/24</tspan><tspan x="18.3" y="1047.3">(c) Kanehisa Laboratories</tspan></text></g>
</g>
</svg>
